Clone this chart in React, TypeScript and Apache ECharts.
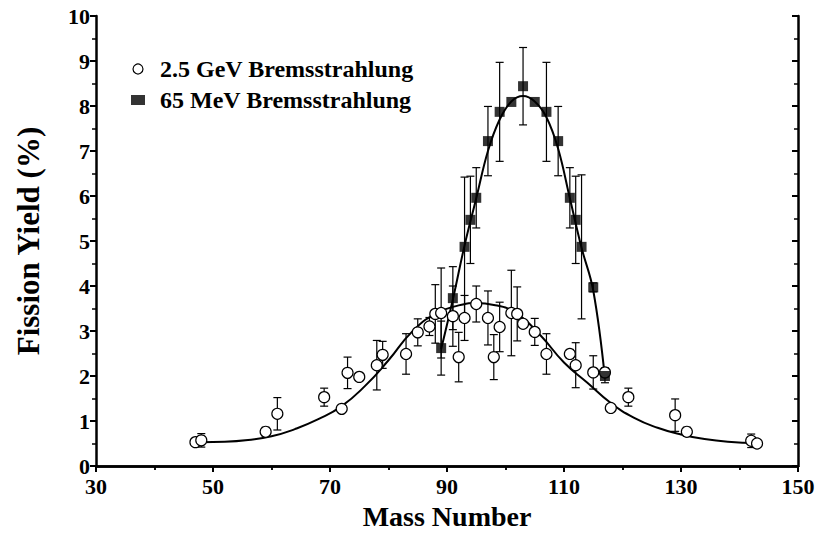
import React, { useEffect, useRef } from "react";
import * as echarts from "echarts";

const xTicks = [30, 50, 70, 90, 110, 130, 150];
const yTicks = [0, 1, 2, 3, 4, 5, 6, 7, 8, 9, 10];

const gevName = "2.5 GeV Bremsstrahlung";
const mevName = "65 MeV Bremsstrahlung";

// 2.5 GeV data (open circles)
const gevMass = [47, 48, 59, 61, 69, 72, 73, 75, 78, 79, 83, 85, 87, 88, 89, 91, 92, 93, 95, 97, 98, 99, 101, 102, 103, 105, 107, 111, 112, 115, 117, 118, 121, 129, 131, 142, 143];
const gevYield = [0.53, 0.57, 0.76, 1.16, 1.53, 1.27, 2.07, 1.98, 2.24, 2.47, 2.49, 2.97, 3.1, 3.38, 3.4, 3.33, 2.42, 3.29, 3.6, 3.29, 2.42, 3.09, 3.4, 3.38, 3.16, 2.98, 2.49, 2.49, 2.24, 2.08, 2.08, 1.29, 1.53, 1.13, 0.76, 0.56, 0.5];
const gevErr = [0.05, 0.15, 0.1, 0.36, 0.2, 0.05, 0.35, 0.05, 0.55, 0.3, 0.45, 0.3, 0.2, 0.65, 1.0, 0.67, 0.55, 0.5, 0.4, 0.6, 0.5, 0.55, 0.95, 0.6, 0.05, 0.3, 0.45, 0.1, 0.5, 0.37, 0.1, 0.05, 0.2, 0.36, 0.1, 0.15, 0.05];

// 65 MeV data (filled squares)
const mevMass = [89, 91, 93, 94, 95, 97, 99, 101, 103, 105, 107, 109, 111, 112, 113, 115, 117];
const mevYield = [2.62, 3.73, 4.87, 5.47, 5.96, 7.22, 7.87, 8.09, 8.44, 8.09, 7.87, 7.22, 5.96, 5.47, 4.87, 3.97, 2.0];
const mevErr = [0.6, 0.7, 1.55, 0.97, 0.67, 0.77, 1.1, 0.0, 0.86, 0.0, 1.1, 0.77, 0.67, 0.97, 1.6, 0.1, 0.15];

// fitted curves
const gevFitMass = [48, 52, 56, 60, 64, 68, 72, 76, 80, 84, 88, 92, 95, 98, 102, 106, 110, 114, 118, 122, 126, 130, 134, 138, 143];
const gevFitYield = [0.53, 0.54, 0.58, 0.66, 0.82, 1.04, 1.33, 1.78, 2.35, 2.98, 3.38, 3.57, 3.62, 3.58, 3.38, 2.9, 2.3, 1.85, 1.4, 1.07, 0.85, 0.7, 0.6, 0.54, 0.51];
const mevFitMass = [89, 91, 93, 95, 97, 99, 101, 103, 105, 107, 109, 111, 113, 115, 117];
const mevFitYield = [2.6, 3.7, 4.9, 5.95, 7.0, 7.7, 8.1, 8.22, 8.1, 7.75, 7.05, 5.95, 4.85, 3.9, 1.95];

const FONT = "'Liberation Serif', 'Times New Roman', serif";

function zip3(a: number[], b: number[], c: number[]) {
  return a.map((v, i) => [v, b[i], c[i]]);
}
function zip2(a: number[], b: number[]) {
  return a.map((v, i) => [v, b[i]]);
}

function errRender(params: any, api: any) {
  const x = api.value(0);
  const y = api.value(1);
  const e = api.value(2);
  if (!e) return null;
  const top = api.coord([x, y + e]);
  const bot = api.coord([x, y - e]);
  const w = 4;
  const style = { stroke: "#000", lineWidth: 1.2 };
  return {
    type: "group",
    children: [
      { type: "line", shape: { x1: top[0], y1: top[1], x2: bot[0], y2: bot[1] }, style },
      { type: "line", shape: { x1: top[0] - w, y1: top[1], x2: top[0] + w, y2: top[1] }, style },
      { type: "line", shape: { x1: bot[0] - w, y1: bot[1], x2: bot[0] + w, y2: bot[1] }, style },
    ],
  };
}

export default function App() {
  const ref = useRef<HTMLDivElement>(null);
  useEffect(() => {
    if (!ref.current) return;
    const chart = echarts.init(ref.current, null, { renderer: "svg" });
    const axisLine = { show: true, lineStyle: { color: "#000", width: 2.5 } };
    const labelStyle = { color: "#000", fontFamily: FONT, fontWeight: "bold" as const, fontSize: 22 };
    chart.setOption({
      animation: false,
      backgroundColor: "#fff",
      grid: { left: 96, right: 20, top: 16, bottom: 72, containLabel: false },
      legend: {
        orient: "vertical",
        left: 126,
        top: 52,
        itemGap: 7,
        itemWidth: 14,
        itemHeight: 10,
        textStyle: { ...labelStyle, fontSize: 24, padding: [0, 0, 0, 10] },
        data: [
          { name: gevName, icon: "circle", itemStyle: { color: "#fff", borderColor: "#000", borderWidth: 1.2 } },
          { name: mevName, icon: "rect", itemStyle: { color: "#000" } },
        ],
      },
      xAxis: [
        {
          type: "value",
          min: xTicks[0],
          max: xTicks[xTicks.length - 1],
          interval: 20,
          position: "bottom",
          axisLine,
          axisTick: { show: true, length: 6, lineStyle: { color: "#000", width: 2 } },
          minorTick: { show: true, splitNumber: 2, length: 4, lineStyle: { color: "#000", width: 1.5 } },
          splitLine: { show: false },
          axisLabel: { ...labelStyle, margin: 9 },
          name: "Mass Number",
          nameLocation: "middle",
          nameGap: 36,
          nameTextStyle: { color: "#000", fontFamily: FONT, fontWeight: "bold", fontSize: 28 },
        },
        {
          type: "value",
          min: xTicks[0],
          max: xTicks[xTicks.length - 1],
          interval: 20,
          position: "top",
          axisLine,
          axisTick: { show: true, inside: true, length: 6, lineStyle: { color: "#000", width: 2 } },
          minorTick: { show: true, splitNumber: 2, length: 4, lineStyle: { color: "#000", width: 1.5 } },
          splitLine: { show: false },
          axisLabel: { show: false },
        },
      ],
      yAxis: [
        {
          type: "value",
          min: yTicks[0],
          max: yTicks[yTicks.length - 1],
          interval: 1,
          position: "left",
          axisLine,
          axisTick: { show: true, length: 6, lineStyle: { color: "#000", width: 2 } },
          minorTick: { show: true, splitNumber: 2, length: 4, lineStyle: { color: "#000", width: 1.5 } },
          splitLine: { show: false },
          axisLabel: { ...labelStyle, margin: 6 },
          name: "Fission Yield (%)",
          nameLocation: "middle",
          nameGap: 52,
          nameTextStyle: { color: "#000", fontFamily: FONT, fontWeight: "bold", fontSize: 31 },
        },
        {
          type: "value",
          min: yTicks[0],
          max: yTicks[yTicks.length - 1],
          interval: 1,
          position: "right",
          axisLine,
          axisTick: { show: true, inside: true, length: 6, lineStyle: { color: "#000", width: 2 } },
          minorTick: { show: true, splitNumber: 2, length: 4, lineStyle: { color: "#000", width: 1.5 } },
          splitLine: { show: false },
          axisLabel: { show: false },
        },
      ],
      series: [
        {
          name: "gevFit",
          type: "line",
          data: zip2(gevFitMass, gevFitYield),
          smooth: 0.5,
          showSymbol: false,
          lineStyle: { color: "#000", width: 2 },
          z: 2,
        },
        {
          name: "mevFit",
          type: "line",
          data: zip2(mevFitMass, mevFitYield),
          smooth: 0.4,
          showSymbol: false,
          lineStyle: { color: "#000", width: 2 },
          z: 2,
        },
        {
          name: "gevErr",
          type: "custom",
          data: zip3(gevMass, gevYield, gevErr),
          encode: { x: 0, y: 1 },
          renderItem: errRender,
          z: 3,
        },
        {
          name: "mevErr",
          type: "custom",
          data: zip3(mevMass, mevYield, mevErr),
          encode: { x: 0, y: 1 },
          renderItem: errRender,
          z: 3,
        },
        {
          name: gevName,
          type: "scatter",
          data: zip2(gevMass, gevYield),
          symbol: "circle",
          symbolSize: 11,
          itemStyle: { color: "#fff", borderColor: "#000", borderWidth: 1.2, opacity: 1 },
          z: 4,
        },
        {
          name: mevName,
          type: "scatter",
          data: zip2(mevMass, mevYield),
          symbol: "rect",
          symbolSize: 10,
          itemStyle: { color: "#000" },
          z: 5,
        },
      ],
    });
    return () => chart.dispose();
  }, []);
  return (
    <div
      ref={ref}
      style={{ position: "fixed", left: 0, top: 0, width: 818, height: 538, background: "#fff" }}
    />
  );
}
